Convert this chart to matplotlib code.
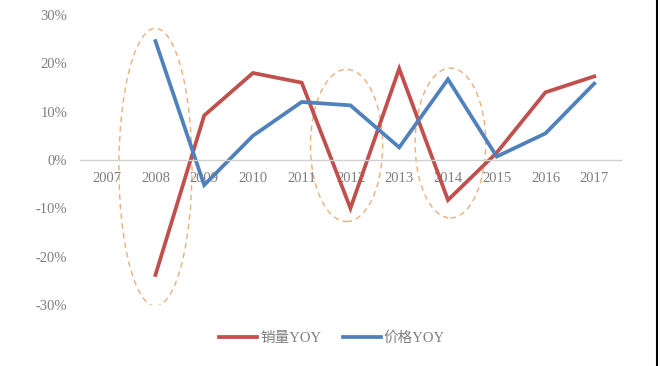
import numpy as np
import matplotlib.pyplot as plt
from matplotlib.patches import Ellipse
from matplotlib.lines import Line2D

years = [2007, 2008, 2009, 2010, 2011, 2012, 2013, 2014, 2015, 2016, 2017]
# None for 2007: series start in 2008
sales_yoy = [None, -23.8, 9.2, 18.0, 16.0, -10.0, 18.9, -8.3, 1.5, 14.0, 17.3]
price_yoy = [None, 24.6, -5.2, 5.0, 12.0, 11.3, 2.6, 16.7, 0.7, 5.5, 15.8]
y_ticks = [-30, -20, -10, 0, 10, 20, 30]

serif = ['Liberation Serif', 'DejaVu Serif']
cjk = ['Liberation Serif', 'Noto Sans CJK SC']
grey = '#7f7f7f'

fig = plt.figure(figsize=(6.6, 3.66), dpi=100)
ax = fig.add_axes([0.121, 0.167, 0.820, 0.792])

x = np.array(years[1:])
ax.plot(x, sales_yoy[1:], color='#C0504D', lw=2.7, label='销量YOY', solid_joinstyle='miter')
ax.plot(x, price_yoy[1:], color='#4F81BD', lw=2.7, label='价格YOY', solid_joinstyle='miter')

# dashed highlight ellipses
for cx, cy, w, h in [(2008.0, -1.5, 1.5, 57.5), (2011.92, 3.0, 1.48, 31.5), (2014.05, 3.5, 1.45, 31.0)]:
    ax.add_patch(Ellipse((cx, cy), w, h, fill=False, ec='#E9B07A', ls=(0, (4, 3)), lw=1.0))

ax.set_xlim(2006.45, 2017.55)
ax.set_ylim(-30, 30)
for s in ['top', 'right', 'left']:
    ax.spines[s].set_visible(False)
ax.spines['bottom'].set_position(('data', 0))
ax.spines['bottom'].set_color('#d0d0d0')
ax.spines['bottom'].set_linewidth(1.0)

ax.set_xticks(years)
ax.set_xticklabels([str(y) for y in years], fontfamily=serif, fontsize=10.5, color=grey)
ax.set_yticks(y_ticks)
ax.set_yticklabels(['%d%%' % v for v in y_ticks], fontfamily=serif, fontsize=10.5, color=grey)
ax.tick_params(axis='both', length=0)
ax.tick_params(axis='x', pad=9)
ax.tick_params(axis='y', pad=9)

leg = ax.legend(loc='center', bbox_to_anchor=(0.466, -0.114), ncol=2, frameon=False,
                prop={'family': cjk, 'size': 10.5}, handlelength=2.6, columnspacing=1.5,
                handletextpad=0.2)
for t in leg.get_texts():
    t.set_color(grey)

fig.add_artist(Line2D([657 / 660, 657 / 660], [0, 1], color='black', lw=1.5, transform=fig.transFigure))

plt.savefig('out.png', dpi=100)
